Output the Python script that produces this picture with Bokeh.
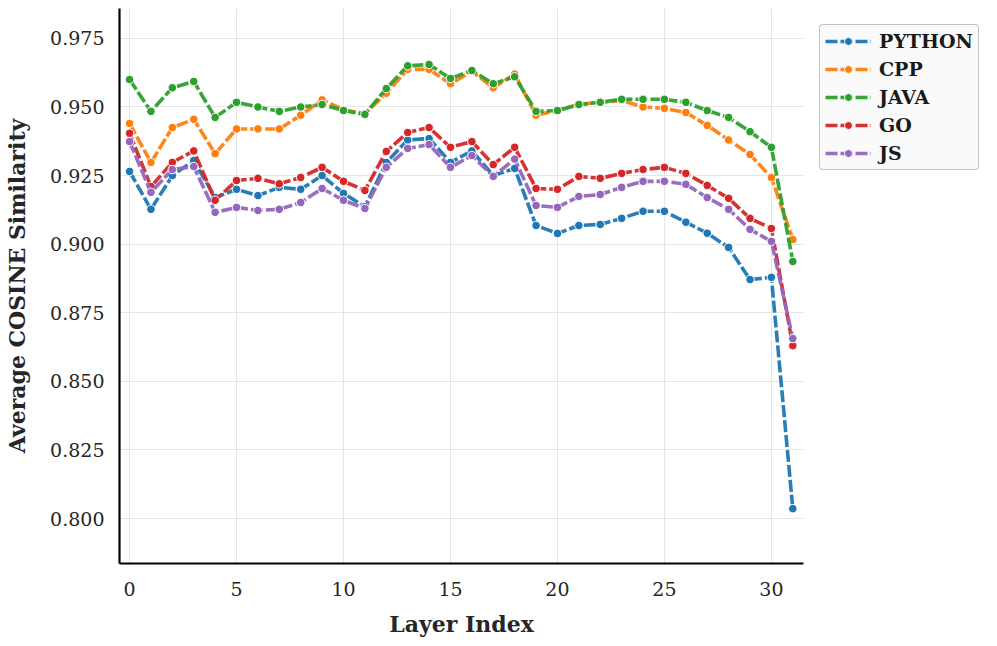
from bokeh.plotting import figure
from bokeh.models import Range1d, Legend, LegendItem, FixedTicker, NumeralTickFormatter
from bokeh.embed import file_html
from bokeh.resources import INLINE

layers = list(range(32))
python_vals = [0.9265, 0.9127, 0.9250, 0.9305, 0.9170, 0.9200, 0.9177, 0.9207, 0.9200, 0.9250,
               0.9185, 0.9137, 0.9298, 0.9380, 0.9385, 0.9298, 0.9340, 0.9250, 0.9276, 0.9068,
               0.9039, 0.9068, 0.9072, 0.9094, 0.9120, 0.9120, 0.9080, 0.9040, 0.8988, 0.8871,
               0.8879, 0.8036]
cpp_vals = [0.9440, 0.9298, 0.9425, 0.9455, 0.9330, 0.9420, 0.9420, 0.9420, 0.9470, 0.9526,
            0.9490, 0.9476, 0.9550, 0.9637, 0.9637, 0.9585, 0.9630, 0.9570, 0.9620, 0.9470,
            0.9487, 0.9510, 0.9517, 0.9524, 0.9500, 0.9495, 0.9480, 0.9433, 0.9380, 0.9327,
            0.9243, 0.9017]
java_vals = [0.9600, 0.9484, 0.9570, 0.9593, 0.9462, 0.9517, 0.9500, 0.9484, 0.9500, 0.9509,
             0.9487, 0.9473, 0.9567, 0.9650, 0.9655, 0.9604, 0.9633, 0.9585, 0.9610, 0.9484,
             0.9487, 0.9509, 0.9517, 0.9528, 0.9528, 0.9528, 0.9517, 0.9487, 0.9462, 0.9410,
             0.9353, 0.8937]
go_vals = [0.9404, 0.9210, 0.9298, 0.9340, 0.9160, 0.9232, 0.9240, 0.9220, 0.9243, 0.9280,
           0.9229, 0.9196, 0.9338, 0.9407, 0.9425, 0.9353, 0.9374, 0.9290, 0.9353, 0.9203,
           0.9200, 0.9247, 0.9240, 0.9258, 0.9272, 0.9280, 0.9258, 0.9214, 0.9167, 0.9094,
           0.9057, 0.8630]
js_vals = [0.9374, 0.9189, 0.9272, 0.9283, 0.9116, 0.9134, 0.9123, 0.9127, 0.9152, 0.9203,
           0.9160, 0.9130, 0.9280, 0.9349, 0.9363, 0.9280, 0.9323, 0.9247, 0.9310, 0.9141,
           0.9134, 0.9174, 0.9181, 0.9207, 0.9229, 0.9229, 0.9218, 0.9170, 0.9127, 0.9054,
           0.9010, 0.8656]

series_names = ["PYTHON", "CPP", "JAVA", "GO", "JS"]
series_vals = [python_vals, cpp_vals, java_vals, go_vals, js_vals]
colors = ["#1f77b4", "#ff7f0e", "#2ca02c", "#d62728", "#9467bd"]
x_ticks = [0, 5, 10, 15, 20, 25, 30]
y_ticks = [0.800, 0.825, 0.850, 0.875, 0.900, 0.925, 0.950, 0.975]

FONT = "DejaVu Serif"

p = figure(frame_width=684, frame_height=555, output_backend="svg", toolbar_location=None,
           x_range=Range1d(-0.47, 31.5), y_range=Range1d(0.7836, 0.9859),
           min_border_left=119, min_border_right=0, min_border_top=8, min_border_bottom=83)
p.outline_line_color = None
p.background_fill_color = "white"
p.border_fill_color = "white"

items = []
for name, vals, col in zip(series_names, series_vals, colors):
    r_line = p.line(layers, vals, line_color=col, line_width=3.6, line_dash="12 3", line_alpha=0.95)
    r_pts = p.scatter(layers, vals, size=8.5, fill_color=col, line_color="white", line_width=1.0)
    items.append(LegendItem(label=name, renderers=[r_line, r_pts]))

# axes
for ax in (p.xaxis[0], p.yaxis[0]):
    ax.axis_line_color = "black"
    ax.axis_line_width = 2.2
    ax.major_tick_line_color = None
    ax.minor_tick_line_color = None
    ax.major_label_text_font = FONT
    ax.major_label_text_font_size = "19px"
    ax.major_label_text_color = "#262626"
    ax.axis_label_text_font = FONT
    ax.axis_label_text_font_style = "bold"
    ax.axis_label_text_font_size = "22px"
    ax.axis_label_text_color = "#262626"

p.xaxis.ticker = FixedTicker(ticks=x_ticks)
p.yaxis.ticker = FixedTicker(ticks=y_ticks)
p.yaxis.formatter = NumeralTickFormatter(format="0.000")
p.xaxis.axis_label = "Layer Index"
p.yaxis.axis_label = "Average COSINE Similarity"
p.xaxis.major_label_standoff = 12
p.xaxis.axis_label_standoff = 12
p.yaxis.major_label_standoff = 9
p.yaxis.axis_label_standoff = 17

p.xgrid.ticker = FixedTicker(ticks=x_ticks)
p.ygrid.ticker = FixedTicker(ticks=y_ticks)
for g in (p.xgrid[0], p.ygrid[0]):
    g.grid_line_color = "#e6e6e6"
    g.grid_line_width = 1

legend = Legend(items=items, location="top_left",
                label_text_font=FONT, label_text_font_style="bold", label_text_font_size="19px",
                label_text_color="#1a1a1a", glyph_width=46, glyph_height=20, label_height=20,
                label_standoff=8, spacing=6, padding=5, margin=16,
                border_line_color="#8c8c8c", border_line_width=1.4,
                background_fill_color="#fafafa", background_fill_alpha=1.0)
if "border_radius" in Legend.properties():
    legend.border_radius = 4
p.add_layout(legend, "right")

open("out.html", "w").write(file_html(p, INLINE))
